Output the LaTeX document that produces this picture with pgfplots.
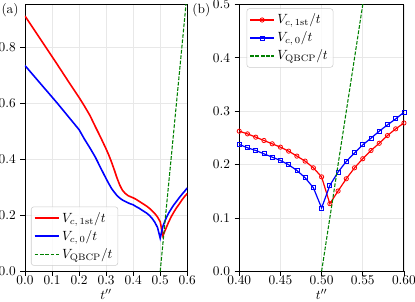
\documentclass[border=0pt]{standalone}
\usepackage{pgfplots}
\usepackage{pgfplotstable}
\pgfplotsset{compat=1.18}
\definecolor{mred}{HTML}{FF0000}
\definecolor{mblue}{HTML}{0000FF}
\definecolor{mgreen}{HTML}{008000}
\definecolor{gridc}{HTML}{E8E8E8}
\definecolor{legc}{HTML}{CCCCCC}

\pgfplotstableread{
t red blue
0.00 0.912 0.735
0.04 0.854 0.690
0.08 0.796 0.645
0.12 0.738 0.600
0.16 0.679 0.553
0.20 0.621 0.506
0.22 0.590 0.472
0.24 0.557 0.441
0.26 0.517 0.408
0.28 0.478 0.369
0.30 0.437 0.331
0.31 0.415 0.313
0.32 0.390 0.296
0.33 0.363 0.283
0.34 0.334 0.271
0.35 0.309 0.262
0.36 0.290 0.255
0.37 0.279 0.250
0.38 0.271 0.245
0.39 0.2665 0.241
0.40 0.2626 0.2377
0.41 0.2576 0.2315
0.42 0.2514 0.2265
0.43 0.2452 0.2202
0.44 0.2390 0.2140
0.45 0.2327 0.2078
0.46 0.2252 0.1997
0.47 0.2159 0.1891
0.48 0.2065 0.1754
0.49 0.1940 0.1567
0.50 0.1770 0.1187
0.51 0.1268 0.1610
0.52 0.1505 0.1860
0.53 0.1735 0.2060
0.54 0.1940 0.2220
0.55 0.2110 0.2370
0.56 0.2265 0.2495
0.57 0.2400 0.2626
0.58 0.2545 0.2745
0.59 0.2670 0.2857
0.60 0.2780 0.2980
}\fulldata

\pgfplotstableread{
t red blue
0.40 0.2626 0.2377
0.41 0.2576 0.2315
0.42 0.2514 0.2265
0.43 0.2452 0.2202
0.44 0.2390 0.2140
0.45 0.2327 0.2078
0.46 0.2252 0.1997
0.47 0.2159 0.1891
0.48 0.2065 0.1754
0.49 0.1940 0.1567
0.50 0.1770 0.1187
0.51 0.1268 0.1610
0.52 0.1505 0.1860
0.53 0.1735 0.2060
0.54 0.1940 0.2220
0.55 0.2110 0.2370
0.56 0.2265 0.2495
0.57 0.2400 0.2626
0.58 0.2545 0.2745
0.59 0.2670 0.2857
0.60 0.2780 0.2980
}\finedata

\pgfplotsset{
  mpl/.style={
    scale only axis,
    clip mode=individual,
    axis line style={line width=0.7pt},
    tick align=outside,
    major tick length=3.4pt,
    every tick/.style={black, line width=0.6pt},
    xtick pos=bottom, ytick pos=left,
    xmajorgrids, ymajorgrids,
    grid style={gridc, line width=0.6pt},
    tick label style={font=\fontsize{9.6}{11}\selectfont},
    xticklabel style={yshift=3.5pt},
    xlabel style={font=\fontsize{12}{14}\selectfont},
    every axis x label/.style={at={(rel axis cs:0.5,0)}, anchor=base, yshift=-21pt},
    legend cell align=left,
    legend style={font=\fontsize{9.6}{11}\selectfont, draw=legc, rounded corners=2pt,
      fill=white, fill opacity=0.8, text opacity=1, draw opacity=1, inner sep=2pt,
      row sep=0.5pt},
    legend image code/.code={\draw[mark repeat=2,mark phase=2,##1] plot coordinates {(0pt,0pt) (9pt,0pt) (18pt,0pt)};},
    yticklabel style={/pgf/number format/.cd, fixed, fixed zerofill, precision=1},
  }
}

\begin{document}
\begin{tikzpicture}
\begin{axis}[mpl,
  width=121.7pt, height=200.1pt,
  xmin=0, xmax=0.6, ymin=0, ymax=0.953,
  xtick={0,0.1,0.2,0.3,0.4,0.5,0.6},
  ytick={0,0.2,0.4,0.6,0.8},
  xticklabel style={/pgf/number format/.cd, fixed, fixed zerofill, precision=1},
  xlabel={$t''$},
  legend style={at={(0,0)}, anchor=south west, xshift=4.5pt, yshift=4.2pt},
]
\addplot[mred, line width=1.2pt] table[x=t, y=red] {\fulldata};
\addlegendentry{$V_{c,\,\mathrm{1st}}/t$}
\addplot[mblue, line width=1.2pt] table[x=t, y=blue] {\fulldata};
\addlegendentry{$V_{c,\,0}/t$}
\addplot[mgreen, line width=0.8pt, dash pattern=on 2.8pt off 1.2pt] coordinates {(0.5,0) (0.6,1.0)};
\addlegendentry{$V_{\mathrm{QBCP}}/t$}
\node[anchor=base east, inner sep=0pt, font=\fontsize{10}{12}\selectfont] at (rel axis cs:0,1) [xshift=-4.6pt, yshift=-6.75pt] {(a)};
\end{axis}

\begin{axis}[mpl, at={(160.7pt,0pt)},
  width=123.5pt, height=200.1pt,
  xmin=0.4, xmax=0.6, ymin=0, ymax=0.5,
  xtick={0.40,0.45,0.50,0.55,0.60},
  ytick={0,0.1,0.2,0.3,0.4,0.5},
  xticklabel style={/pgf/number format/.cd, fixed, fixed zerofill, precision=2},
  xlabel={$t''$},
  legend style={at={(0,1)}, anchor=north west, xshift=5.5pt, yshift=-2.9pt},
]
\addplot[mred, line width=0.9pt, mark=o, mark size=1.6pt, mark options={line width=0.6pt, fill=white}] table[x=t, y=red] {\finedata};
\addlegendentry{$V_{c,\,\mathrm{1st}}/t$}
\addplot[mblue, line width=0.9pt, mark=square, mark size=1.5pt, mark options={line width=0.6pt, fill=white}] table[x=t, y=blue] {\finedata};
\addlegendentry{$V_{c,\,0}/t$}
\addplot[mgreen, line width=0.8pt, dash pattern=on 2.8pt off 1.2pt] coordinates {(0.5,0) (0.6,1.0)};
\addlegendentry{$V_{\mathrm{QBCP}}/t$}
\node[anchor=base east, inner sep=0pt, font=\fontsize{10}{12}\selectfont] at (rel axis cs:0,1) [xshift=-21.6pt, yshift=-6.75pt] {(b)};
\end{axis}
\pgfresetboundingbox
\useasboundingbox (-18.75pt,-23.0pt) rectangle (292.5pt,203.5pt);
\end{tikzpicture}
\end{document}
